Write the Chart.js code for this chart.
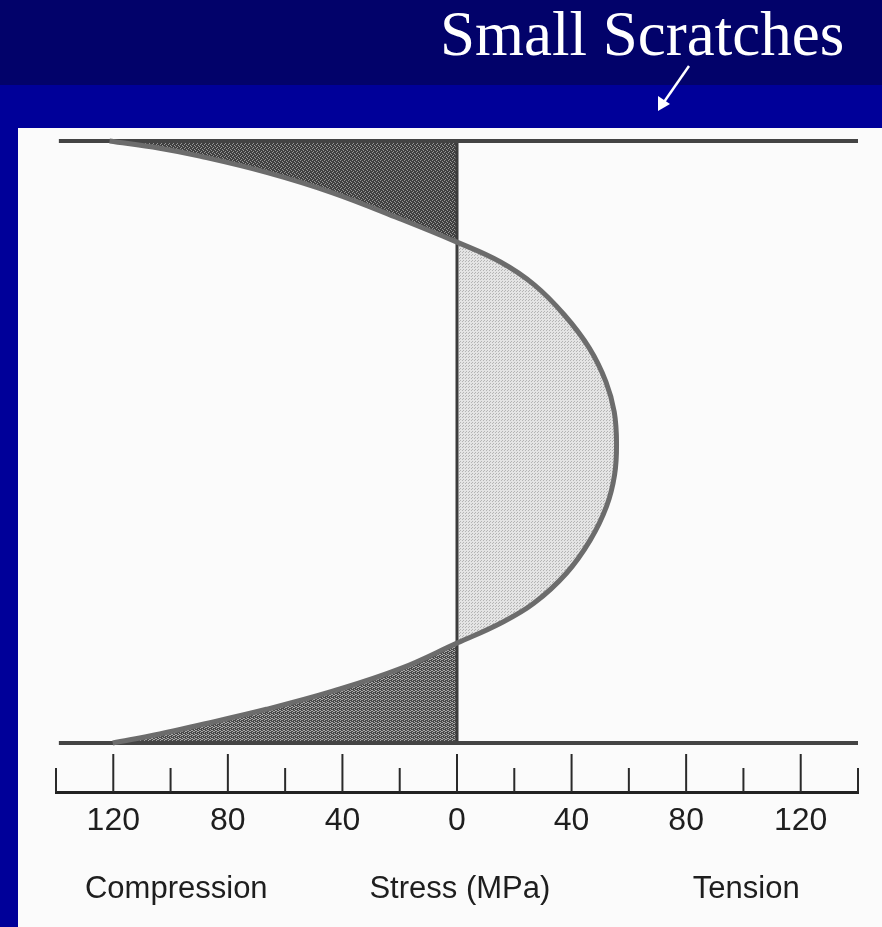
<!DOCTYPE html>
<html>
<head>
<meta charset="utf-8">
<style>
  html, body { margin: 0; padding: 0; background: #000099; }
  #wrap { position: relative; width: 882px; height: 927px; }
</style>
<script src="https://cdn.jsdelivr.net/npm/chart.js@4.4.1/dist/chart.umd.min.js"></script>
</head>
<body>
<div id="wrap"><canvas id="stressChart"></canvas></div>
<script>
// depth through the plate (0 = top surface, 100 = bottom surface) against stress in MPa
const depthTop = [0, 1.2, 2.5, 5.2, 8.6, 12.9, 16.8];
const stressTop = [-121.3, -103.8, -89.8, -66.5, -43.4, -20, 0];
const depthMid = [16.8, 20.1, 23.9, 28.9, 34.4, 40.0, 45.0, 50.3, 55.5, 60.7, 66.3, 71.8, 76.8, 80.1, 83.4];
const stressMid = [0, 15.2, 27.0, 37.5, 46.2, 52.0, 54.9, 55.7, 55.0, 52.2, 46.5, 38.2, 26.8, 15.2, 0];
const depthBot = [83.4, 87.7, 91.4, 94.4, 97.0, 98.5, 100];
const stressBot = [0, -20, -43.4, -66.5, -89.8, -103.8, -120.2];

const surfaceDepths = [0, 100];
const surfaceSpan = [-139, 140];
const stressRange = [-140, 140];
const tickStep = 20;
const labelStep = 40;
const axisNames = [['Compression', -98], ['Stress (MPa)', 1], ['Tension', 101]];

function pts(xs, ys) {
  return xs.map((x, i) => ({ x, y: ys[i] }));
}

function makePattern(base, dot, size, cells) {
  const c = document.createElement('canvas');
  c.width = c.height = size;
  const g = c.getContext('2d');
  g.fillStyle = base;
  g.fillRect(0, 0, size, size);
  g.fillStyle = dot;
  cells.forEach(([x, y]) => g.fillRect(x, y, 1, 1));
  return g.createPattern(c, 'repeat');
}

const darkFill = makePattern('#404040', '#969696', 4, [[0, 0], [2, 1], [1, 3], [3, 2]]);
const mottledFill = makePattern('#4a4a4a', '#a8a8a8', 4, [[0, 0], [2, 1], [1, 3], [3, 2], [2, 3], [0, 2]]);
const lightFill = makePattern('#e4e4e4', '#b4b4b4', 3, [[0, 0], [1, 2]]);

const topShape = pts(stressTop, depthTop).concat([{ x: 0, y: depthTop[0] }]);
const midShape = pts(stressMid, depthMid);
const botShape = pts(stressBot, depthBot).concat([{ x: 0, y: depthBot[depthBot.length - 1] }]);
const curve = pts(stressTop, depthTop)
  .concat(pts(stressMid, depthMid).slice(1))
  .concat(pts(stressBot, depthBot).slice(1));

const backdrop = {
  id: 'backdrop',
  beforeDraw(chart) {
    const { ctx, width, height } = chart;
    ctx.save();
    ctx.fillStyle = '#000099';
    ctx.fillRect(0, 0, width, height);
    ctx.fillStyle = '#02026a';
    ctx.fillRect(0, 0, width, 85);
    ctx.fillStyle = '#fbfbfb';
    ctx.fillRect(18, 128, width - 18, height - 128);
    ctx.fillStyle = '#ffffff';
    ctx.font = '63px "Liberation Serif"';
    ctx.textBaseline = 'alphabetic';
    ctx.fillText('Small Scratches', 440, 55);
    // arrow pointing at the surface
    ctx.strokeStyle = '#ffffff';
    ctx.lineWidth = 2.5;
    ctx.beginPath();
    ctx.moveTo(689, 66);
    ctx.lineTo(664, 102);
    ctx.stroke();
    ctx.beginPath();
    ctx.moveTo(658, 111);
    ctx.lineTo(658, 96);
    ctx.lineTo(670, 104);
    ctx.closePath();
    ctx.fill();
    ctx.restore();
  }
};

const axisMarks = {
  id: 'axisMarks',
  afterDraw(chart) {
    const { ctx, chartArea } = chart;
    const x = chart.scales.x;
    ctx.save();
    ctx.strokeStyle = '#2a2a2a';
    ctx.lineWidth = 2;
    x.ticks.forEach(t => {
      const px = x.getPixelForValue(t.value);
      const len = t.value % labelStep === 0 ? 38 : 24;
      ctx.beginPath();
      ctx.moveTo(px, chartArea.bottom);
      ctx.lineTo(px, chartArea.bottom - len);
      ctx.stroke();
    });
    ctx.fillStyle = '#1e1e1e';
    ctx.font = '31px "Liberation Sans"';
    ctx.textAlign = 'center';
    ctx.textBaseline = 'middle';
    axisNames.forEach(([txt, v]) => ctx.fillText(txt, x.getPixelForValue(v), 889));
    ctx.restore();
  }
};

const ctx = document.getElementById('stressChart').getContext('2d');
new Chart(ctx, {
  type: 'scatter',
  data: {
    datasets: [
      { data: curve, showLine: true, borderColor: '#6c6c6c', borderWidth: 5, tension: 0.4, pointRadius: 0, clip: false, order: 0 },
      { data: surfaceSpan.map(x => ({ x, y: surfaceDepths[0] })), showLine: true, borderColor: '#444444', borderWidth: 4, pointRadius: 0, clip: false, order: 1 },
      { data: surfaceSpan.map(x => ({ x, y: surfaceDepths[1] })), showLine: true, borderColor: '#444444', borderWidth: 4, pointRadius: 0, clip: false, order: 1 },
      { data: surfaceDepths.map(y => ({ x: 0, y })), showLine: true, borderColor: '#3c3c3c', borderWidth: 3, pointRadius: 0, clip: false, order: 1 },
      { data: topShape, showLine: true, fill: 'shape', backgroundColor: darkFill, borderWidth: 0, pointRadius: 0, order: 2 },
      { data: midShape, showLine: true, fill: 'shape', backgroundColor: lightFill, borderWidth: 0, pointRadius: 0, order: 2 },
      { data: botShape, showLine: true, fill: 'shape', backgroundColor: mottledFill, borderWidth: 0, pointRadius: 0, order: 2 }
    ]
  },
  options: {
    responsive: true,
    maintainAspectRatio: false,
    animation: false,
    layout: { padding: { left: 56, right: 24, top: 130, bottom: 0 } },
    plugins: { legend: { display: false }, tooltip: { enabled: false } },
    scales: {
      x: {
        type: 'linear',
        min: stressRange[0],
        max: stressRange[1],
        afterFit: s => { s.height = 135; },
        grid: { drawOnChartArea: false, drawTicks: false },
        border: { display: true, color: '#222222', width: 3 },
        ticks: {
          stepSize: tickStep,
          autoSkip: false,
          maxRotation: 0,
          padding: 10,
          color: '#1e1e1e',
          font: { family: 'Liberation Sans', size: 32 },
          callback: v => (v % labelStep === 0 ? String(Math.abs(v)) : '')
        }
      },
      y: { type: 'linear', min: -1.83, max: 108.14, reverse: true, display: false }
    }
  },
  plugins: [backdrop, axisMarks]
});
</script>
</body>
</html>
